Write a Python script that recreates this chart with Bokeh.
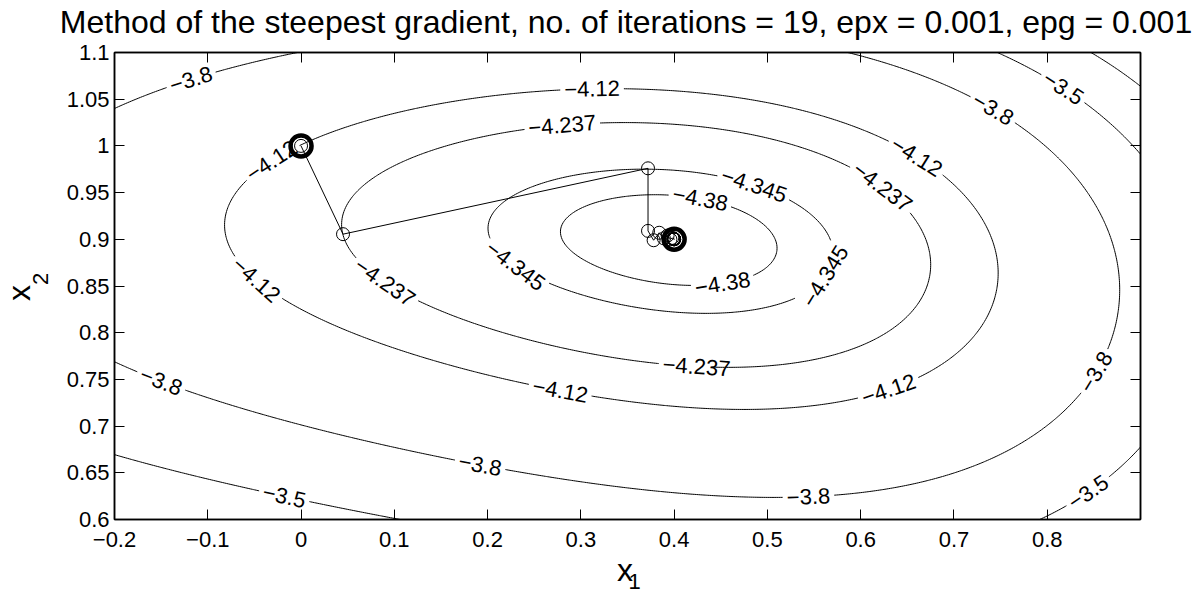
import numpy as np
import contourpy
from bokeh.plotting import figure
from bokeh.models import (Range1d, LinearAxis, FixedTicker, Label,
                          CustomJSTickFormatter, ColumnDataSource)
from bokeh.core.properties import value
from bokeh.embed import file_html
from bokeh.resources import INLINE

title_text = "Method of the steepest gradient, no. of iterations = 19, epx = 0.001, epg = 0.001"

# minimiser reached by the search and the objective value there
x_star = [0.4, 0.9]
f_star = -4.403

# contour levels and their label strings
levels = [-4.38, -4.345, -4.237, -4.12, -3.8, -3.5, -3.2]
level_names = ["−4.38", "−4.345", "−4.237", "−4.12", "−3.8", "−3.5", "−3.2"]

# points sampled along each level curve of the objective (x1, x2)
lev_438_x1 = [0.280, 0.309, 0.380, 0.487, 0.507, 0.480, 0.416, 0.344, 0.301]
lev_438_x2 = [0.910, 0.935, 0.947, 0.922, 0.894, 0.862, 0.850, 0.862, 0.879]

lev_4345_x1 = [0.201, 0.237, 0.309, 0.373, 0.441, 0.530, 0.562, 0.566, 0.541, 0.523, 0.416, 0.344, 0.262]
lev_4345_x2 = [0.910, 0.954, 0.972, 0.975, 0.967, 0.938, 0.906, 0.890, 0.840, 0.829, 0.822, 0.831, 0.853]

lev_4237_x1 = [0.046, 0.082, 0.171, 0.241, 0.319, 0.416, 0.530, 0.587, 0.652, 0.673,
               0.666, 0.627, 0.530, 0.462, 0.384, 0.273, 0.171, 0.121, 0.060, 0.046]
lev_4237_x2 = [0.926, 0.976, 1.001, 1.017, 1.025, 1.020, 1.001, 0.978, 0.929, 0.876,
               0.837, 0.797, 0.769, 0.763, 0.765, 0.790, 0.815, 0.833, 0.879, 0.906]

lev_412_x1 = [-0.081, -0.072, -0.026, 0.064, 0.171, 0.248, 0.309, 0.416, 0.541, 0.602, 0.698, 0.734,
              0.746, 0.730, 0.684, 0.627, 0.530, 0.451, 0.344, 0.280, 0.171, 0.010, -0.051]
lev_412_x2 = [0.919, 0.879, 0.837, 0.797, 0.760, 0.738, 0.730, 0.721, 0.721, 0.737, 0.772, 0.812,
              0.862, 0.919, 0.970, 1.008, 1.040, 1.056, 1.061, 1.060, 1.051, 1.006, 0.967]

lev_38_x1 = [-0.200, -0.145, -0.094, -0.004, -0.200, -0.127, -0.026, 0.082, 0.171, 0.217, 0.344, 0.451,
             0.519, 0.566, 0.691, 0.780, 0.837, 0.866, 0.877, 0.870, 0.834, 0.762, 0.709, 0.598]
lev_38_x2 = [1.040, 1.061, 1.079, 1.099, 0.769, 0.738, 0.712, 0.687, 0.660, 0.651, 0.637, 0.628,
             0.624, 0.626, 0.644, 0.687, 0.740, 0.790, 0.854, 0.904, 0.965, 1.028, 1.054, 1.097]

lev_35_x1 = [-0.200, -0.097, 0.007, 0.096, 0.800, 0.859, 0.898, 0.745, 0.795, 0.834, 0.870, 0.898]
lev_35_x2 = [0.671, 0.642, 0.619, 0.601, 0.603, 0.640, 0.674, 1.099, 1.072, 1.047, 1.022, 0.992]

lev_32_x1 = [0.870, 0.898]
lev_32_x2 = [1.099, 1.081]

# iterates of the steepest-descent search (start point first)
path_x1 = [0.0, 0.045, 0.372, 0.372, 0.378, 0.384, 0.389, 0.393, 0.396, 0.398,
           0.399, 0.3995, 0.3997, 0.3998, 0.3999, 0.3999, 0.4, 0.4, 0.4, 0.4]
path_x2 = [1.0, 0.9055, 0.976, 0.909, 0.899, 0.907, 0.901, 0.904, 0.900, 0.9015,
           0.9003, 0.9008, 0.9002, 0.9005, 0.9001, 0.9003, 0.9001, 0.9002, 0.9, 0.9]

# axis ticks
x_ticks = [-0.2, -0.1, 0.0, 0.1, 0.2, 0.3, 0.4, 0.5, 0.6, 0.7, 0.8]
x_tick_labels = ["−0.2", "−0.1", "0", "0.1", "0.2", "0.3", "0.4", "0.5", "0.6", "0.7", "0.8"]
y_ticks = [0.6, 0.65, 0.7, 0.75, 0.8, 0.85, 0.9, 0.95, 1.0, 1.05, 1.1]
y_tick_labels = ["0.6", "0.65", "0.7", "0.75", "0.8", "0.85", "0.9", "0.95", "1", "1.05", "1.1"]

# where the inline contour labels sit (x1, x2, level)
label_spots = [
    (-0.117, 1.070, -3.8), (0.312, 1.060, -4.12), (0.280, 1.020, -4.237),
    (-0.029, 0.981, -4.12), (-0.047, 0.858, -4.12), (0.089, 0.854, -4.237),
    (-0.151, 0.744, -3.8), (-0.018, 0.621, -3.5), (0.232, 0.874, -4.345),
    (0.484, 0.954, -4.345), (0.428, 0.940, -4.38), (0.452, 0.858, -4.38),
    (0.423, 0.762, -4.237), (0.276, 0.733, -4.12), (0.192, 0.653, -3.8),
    (0.544, 0.622, -3.8), (0.630, 0.740, -4.12), (0.854, 0.758, -3.8),
    (0.841, 0.633, -3.5), (0.557, 0.865, -4.345), (0.623, 0.956, -4.237),
    (0.659, 0.988, -4.12), (0.741, 1.037, -3.8), (0.816, 1.060, -3.5),
]

X_LO, X_HI = -0.2, 0.9
Y_LO, Y_HI = 0.6, 1.1
W, H = 1202, 594
B_LEFT, B_RIGHT, B_TOP, B_BOTTOM = 114, 62, 52, 75
FRAME_W = W - B_LEFT - B_RIGHT
FRAME_H = H - B_TOP - B_BOTTOM
SX = FRAME_W / (X_HI - X_LO)
SY = FRAME_H / (Y_HI - Y_LO)
FONT = "Liberation Sans"
LABEL_PX = 22

# ---- smooth objective surface through the sampled level curves ----
samples = [
    (-4.38, lev_438_x1, lev_438_x2), (-4.345, lev_4345_x1, lev_4345_x2),
    (-4.237, lev_4237_x1, lev_4237_x2), (-4.12, lev_412_x1, lev_412_x2),
    (-3.8, lev_38_x1, lev_38_x2), (-3.5, lev_35_x1, lev_35_x2),
    (-3.2, lev_32_x1, lev_32_x2),
]
powers = [(i, d - i) for d in range(2, 5) for i in range(d, -1, -1)]


def basis(x1, x2):
    u = (np.asarray(x1, float) - x_star[0]) / 0.5
    v = (np.asarray(x2, float) - x_star[1]) / 0.2
    return np.stack([u ** i * v ** j for i, j in powers], axis=-1)


rows, rhs, wts = [], [], []
for lev, xs, ys in samples:
    w = 1.0 / np.sqrt(lev - f_star)
    if lev == -3.2:
        w *= 0.5
    for a, b in zip(xs, ys):
        rows.append(basis(a, b))
        rhs.append(lev - f_star)
        wts.append(w)
A = np.array(rows) * np.array(wts)[:, None]
rvec = np.array(rhs) * np.array(wts)
coef = np.linalg.lstsq(A, rvec, rcond=None)[0]


def objective(x1, x2):
    return f_star + basis(x1, x2) @ coef


gx = np.linspace(X_LO, X_HI, 551)
gy = np.linspace(Y_LO, Y_HI, 251)
GX, GY = np.meshgrid(gx, gy)
Z = objective(GX, GY)
gen = contourpy.contour_generator(gx, gy, Z, line_type="Separate")
curves = {lev: [np.asarray(s) for s in gen.lines(lev) if len(s) > 1] for lev in levels}

# ---- inline labels: open a gap in the curve and write the value along it ----
GLYPH_W = {"−": 0.584, ".": 0.278}


def label_width(s, size):
    return size * sum(GLYPH_W.get(ch, 0.556) for ch in s)


def along(P, s, t):
    return np.array([np.interp(t, s, P[:, 0]), np.interp(t, s, P[:, 1])])


lab_x, lab_y, lab_t, lab_a = [], [], [], []
for (qx, qy, lev) in label_spots:
    segs = curves[lev]
    if not segs:
        continue
    best = None
    for k, seg in enumerate(segs):
        d = ((seg[:, 0] - qx) * SX) ** 2 + ((seg[:, 1] - qy) * SY) ** 2
        i = int(d.argmin())
        if best is None or d[i] < best[0]:
            best = (d[i], k, i)
    _, k, i = best
    seg = segs.pop(k)
    n = len(seg)
    if n > 3 and np.allclose(seg[0], seg[-1]):
        j = (i + (n - 1) // 2) % (n - 1)
        seg = np.vstack([seg[j:-1], seg[:j + 1]])
        i = (i - j) % (n - 1)
    P = np.column_stack([seg[:, 0] * SX, seg[:, 1] * SY])
    s = np.concatenate([[0.0], np.cumsum(np.hypot(np.diff(P[:, 0]), np.diff(P[:, 1])))])
    name = level_names[levels.index(lev)]
    half = 0.5 * label_width(name, LABEL_PX) + 4
    s0 = max(s[i] - half, 0.0)
    s1 = min(s[i] + half, s[-1])
    a = along(P, s, s0)
    b = along(P, s, s1)
    ang = np.arctan2(b[1] - a[1], b[0] - a[0])
    if ang > np.pi / 2:
        ang -= np.pi
    elif ang < -np.pi / 2:
        ang += np.pi
    c = along(P, s, s[i])
    lab_x.append(c[0] / SX)
    lab_y.append(c[1] / SY)
    lab_t.append(name)
    lab_a.append(float(ang))
    scale = np.array([SX, SY])
    before = np.vstack([seg[s < s0], a / scale])
    after = np.vstack([b / scale, seg[s > s1]])
    for part in (before, after):
        if len(part) >= 2:
            segs.append(part)

line_xs, line_ys = [], []
for lev in levels:
    for seg in curves[lev]:
        line_xs.append(seg[:, 0].tolist())
        line_ys.append(seg[:, 1].tolist())

# ---- figure ----
p = figure(width=W, height=H, output_backend="svg", toolbar_location=None, title=None,
           x_range=Range1d(X_LO, X_HI), y_range=Range1d(Y_LO, Y_HI),
           min_border_left=B_LEFT, min_border_right=B_RIGHT,
           min_border_top=B_TOP, min_border_bottom=B_BOTTOM,
           x_axis_location=None, y_axis_location=None)
p.grid.visible = False
p.outline_line_color = "black"
p.outline_line_width = 1.5
p.background_fill_color = "white"
p.border_fill_color = "white"


def tick_axis(ticks, labels, show):
    if show:
        fmt = CustomJSTickFormatter(args=dict(tick_vals=ticks, tick_names=labels), code="""
            for (let k = 0; k < tick_vals.length; k++) {
                if (Math.abs(tick_vals[k] - tick) < 1e-9) { return tick_names[k]; }
            }
            return '';
        """)
    else:
        fmt = CustomJSTickFormatter(code="return '';")
    ax = LinearAxis(ticker=FixedTicker(ticks=ticks), formatter=fmt)
    ax.axis_line_width = 1.5
    ax.axis_line_color = "black"
    ax.major_tick_in = 10
    ax.major_tick_out = 0
    ax.major_tick_line_color = "black"
    ax.major_tick_line_width = 1
    ax.minor_tick_in = 0
    ax.minor_tick_out = 0
    ax.major_label_text_font = FONT
    ax.major_label_text_font_size = "22px" if show else "1px"
    ax.major_label_text_color = "black"
    if not show:
        ax.major_label_standoff = 0
    return ax


ax_b = tick_axis(x_ticks, x_tick_labels, True)
ax_b.major_label_standoff = 12
p.add_layout(ax_b, "below")
ax_l = tick_axis(y_ticks, y_tick_labels, True)
ax_l.major_label_standoff = 5
p.add_layout(ax_l, "left")
p.add_layout(tick_axis(x_ticks, x_tick_labels, False), "above")
p.add_layout(tick_axis(y_ticks, y_tick_labels, False), "right")


def px_to_data(px, py):
    return X_LO + (px - B_LEFT) / SX, Y_HI - (py - B_TOP) / SY


BASE_SHIFT = 0.36  # baseline correction, as a fraction of the font size


def caption(text, px, py, size_px, side, rotated=False):
    # free text outside the frame; it sits in a side panel so it is not clipped
    if rotated:
        px -= BASE_SHIFT * size_px
    else:
        py -= BASE_SHIFT * size_px
    x, y = px_to_data(px, py)
    p.add_layout(Label(x=x, y=y, text=text, angle=np.pi / 2 if rotated else 0.0,
                       text_font=FONT, text_font_size=f"{size_px}px", text_align="center",
                       text_baseline="alphabetic", text_color="black"), side)


caption(title_text, 625.5, 33, 32, "above")
caption("x", 624.5, 581, 32, "right")
caption("1", 634, 589, 22, "right")
caption("x", 30, 292.5, 32, "left", rotated=True)
caption("2", 47.5, 278.5, 22, "left", rotated=True)

# contour curves
p.multi_line(line_xs, line_ys, line_color="black", line_width=1)

# contour value labels
lab_src = ColumnDataSource(dict(x=lab_x, y=lab_y, text=lab_t, angle=lab_a))
p.text(x="x", y="y", text="text", angle="angle", source=lab_src,
       text_font=value(FONT), text_font_size=value(f"{LABEL_PX}px"),
       text_align="center", text_baseline="middle", text_color="black")

# search path
p.line(path_x1, path_x2, line_color="black", line_width=1)
p.scatter(path_x1, path_x2, marker="circle", size=13, fill_color=None,
          line_color="black", line_width=1)
p.scatter([path_x1[0], path_x1[-1]], [path_x2[0], path_x2[-1]], marker="circle",
          size=21, fill_color=None, line_color="black", line_width=4.5)

open("out.html", "w").write(file_html(p, INLINE))
